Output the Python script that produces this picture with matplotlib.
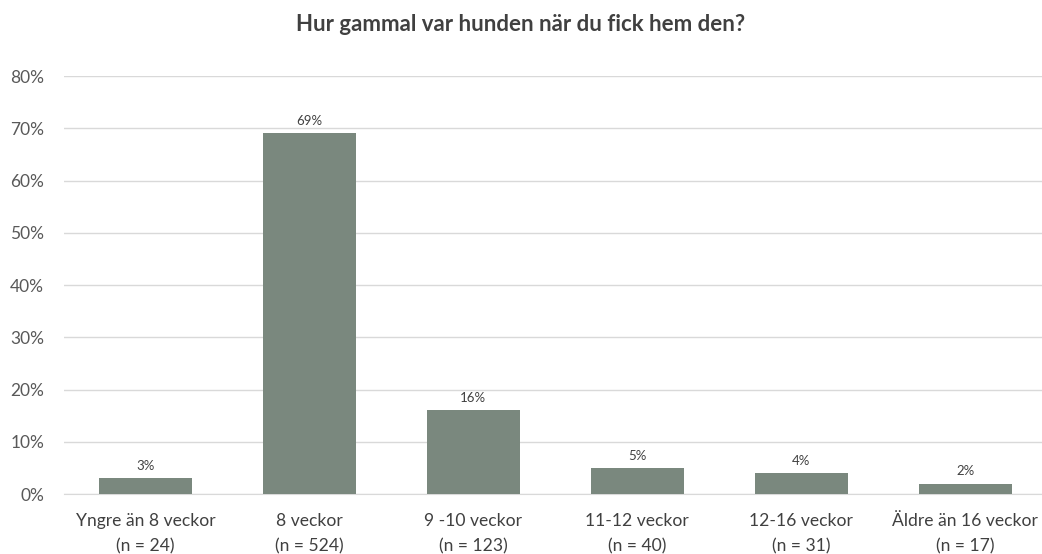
import matplotlib
matplotlib.use('Agg')
import matplotlib.pyplot as plt

categories = ['Yngre än 8 veckor\n(n = 24)', '8 veckor\n(n = 524)', '9 -10 veckor\n(n = 123)',
              '11-12 veckor\n(n = 40)', '12-16 veckor\n(n = 31)', 'Äldre än 16 veckor\n(n = 17)']
values = [3, 69, 16, 5, 4, 2]
yticks = [0, 10, 20, 30, 40, 50, 60, 70, 80]

plt.rcParams['font.family'] = ['Lato', 'DejaVu Sans']

fig = plt.figure(figsize=(10.42, 5.54), dpi=100)
ax = fig.add_axes([0.061, 0.1083, 0.944, 0.7545])

x = range(len(values))
bars = ax.bar(x, values, width=0.567, color='#7a887e', zorder=3)
for bar, v in zip(bars, values):
    ax.text(bar.get_x() + bar.get_width() / 2, v + 1.2, f'{v}%',
            ha='center', va='bottom', fontsize=9.5, color='#404040')

ax.set_xlim(-0.5, len(values) - 0.5)
ax.set_ylim(0, 80)
ax.set_yticks(yticks)
ax.set_yticklabels([f'{t}%' for t in yticks], fontsize=12.5, color='#595959')
ax.set_xticks(list(x))
ax.set_xticklabels(categories, fontsize=12.6, color='#404040', linespacing=1.65)
ax.grid(axis='y', color='#d9d9d9', linewidth=1, zorder=0)
for s in ['top', 'right', 'left']:
    ax.spines[s].set_visible(False)
ax.spines['bottom'].set_color('#d9d9d9')
ax.tick_params(axis='both', length=0)
ax.tick_params(axis='y', pad=14)
ax.tick_params(axis='x', pad=14)

fig.suptitle('Hur gammal var hunden när du fick hem den?', y=0.975, fontsize=16,
             fontweight='bold', color='#404040')

plt.savefig('out.png', dpi=100)
plt.close()
